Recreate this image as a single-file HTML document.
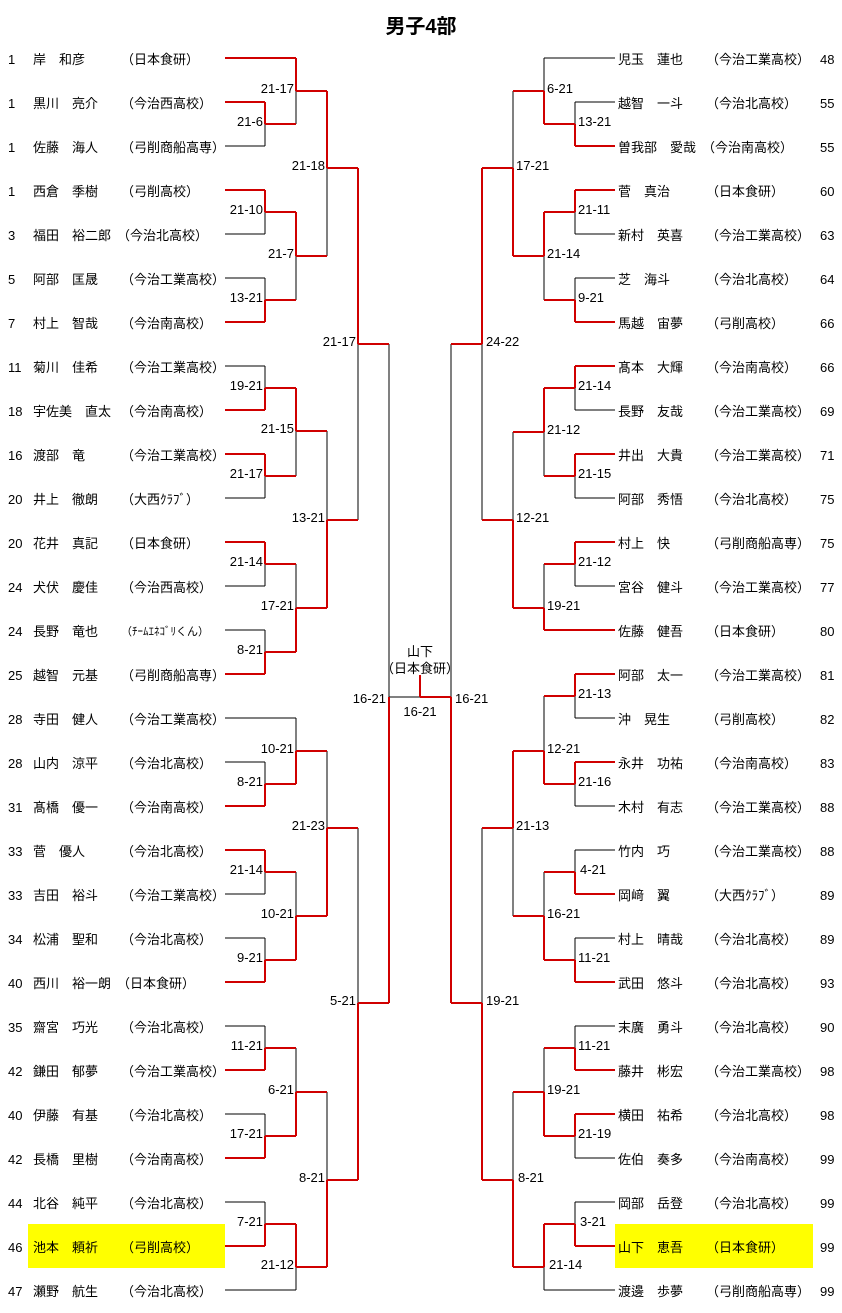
<!DOCTYPE html>
<html><head><meta charset="utf-8"><style>
html,body{margin:0;padding:0;background:#fff;}
svg{display:block;}
text{font-family:"Liberation Sans","Noto Sans CJK JP",sans-serif;font-size:13px;fill:#000;}
.t{font-size:20px;font-weight:bold;}
.s{font-size:11px;}
</style></head><body>
<svg width="842" height="1313" viewBox="0 0 842 1313" xmlns="http://www.w3.org/2000/svg" shape-rendering="crispEdges">
<rect x="28" y="1224" width="197" height="44" fill="#ffff00"/>
<rect x="615" y="1224" width="198" height="44" fill="#ffff00"/>
<text class="t" x="421" y="33" text-anchor="middle">男子4部</text>

<!-- black lines -->
<path fill="none" stroke="#000" stroke-width="1" d="
M265 102V146M265 190V234M265 278V322M265 366V410M265 454V498M265 542V586M265 630V674M265 762V806M265 850V894M265 938V982M265 1026V1070M265 1114V1158M265 1202V1246
M296 58V124M296 212V300M296 388V476M296 564V652M296 718V784M296 872V960M296 1048V1136M296 1224V1290
M327 91V256M327 431V608M327 751V916M327 1092V1267
M358 168V520M358 828V1180
M389 344V1003
M225 146H265M225 234H265M225 278H265M225 366H265M225 498H265M225 586H265M225 630H265M225 762H265M225 894H265M225 938H265M225 1026H265M225 1114H265M225 1202H265
M225 718H296M225 1290H296M389 697H420
M575 102V146M575 190V234M575 278V322M575 366V410M575 454V498M575 542V586M575 674V718M575 762V806M575 850V894M575 938V982M575 1026V1070M575 1114V1158M575 1202V1246
M544 58V124M544 212V300M544 388V476M544 564V630M544 696V784M544 872V960M544 1048V1136M544 1224V1290
M513 91V256M513 432V608M513 751V916M513 1092V1267
M482 168V520M482 828V1180
M451 344V1003
M615 102H575M615 234H575M615 278H575M615 410H575M615 498H575M615 586H575M615 718H575M615 806H575M615 850H575M615 938H575M615 1026H575M615 1158H575M615 1202H575
M615 58H544M615 1290H544
"/>

<!-- red lines -->
<path fill="none" stroke="#d00000" stroke-width="2" d="
M265 102V124M265 190V212M265 300V322M265 388V410M265 454V476M265 542V564M265 652V674M265 784V806M265 850V872M265 960V982M265 1048V1070M265 1136V1158M265 1224V1246
M296 58V91M296 212V256M296 388V431M296 608V652M296 751V784M296 916V960M296 1092V1136M296 1224V1267
M327 91V168M327 520V608M327 828V916M327 1180V1267
M358 168V344M358 1003V1180
M389 697V1003
M225 58H296M225 102H265M225 190H265M225 322H265M225 410H265M225 454H265M225 542H265M225 674H265M225 806H265M225 850H265M225 982H265M225 1070H265M225 1158H265M225 1246H265
M265 124H296M265 212H296M265 300H296M265 388H296M265 476H296M265 564H296M265 652H296M265 784H296M265 872H296M265 960H296M265 1048H296M265 1136H296M265 1224H296
M296 91H327M296 256H327M296 431H327M296 608H327M296 751H327M296 916H327M296 1092H327M296 1267H327
M327 168H358M327 520H358M327 828H358M327 1180H358
M358 344H389M358 1003H389
M575 124V146M575 190V212M575 300V322M575 366V388M575 454V476M575 542V564M575 674V696M575 762V784M575 872V894M575 960V982M575 1048V1070M575 1114V1136M575 1224V1246
M544 91V124M544 212V256M544 388V432M544 608V630M544 751V784M544 916V960M544 1092V1136M544 1224V1267
M513 168V256M513 520V608M513 751V828M513 1180V1267
M482 168V344M482 1003V1180
M451 697V1003
M615 146H575M615 190H575M615 322H575M615 366H575M615 454H575M615 542H575M615 674H575M615 762H575M615 894H575M615 982H575M615 1070H575M615 1114H575M615 1246H575
M615 630H544
M575 124H544M575 212H544M575 300H544M575 388H544M575 476H544M575 564H544M575 696H544M575 784H544M575 872H544M575 960H544M575 1048H544M575 1136H544M575 1224H544
M544 91H513M544 256H513M544 432H513M544 608H513M544 751H513M544 916H513M544 1092H513M544 1267H513
M513 168H482M513 520H482M513 828H482M513 1180H482
M482 344H451M482 1003H451
M451 697H420M420 675V697
"/>

<!-- left score labels -->
<g text-anchor="end">
<text x="263" y="126">21-6</text><text x="263" y="214">21-10</text><text x="263" y="302">13-21</text><text x="263" y="390">19-21</text><text x="263" y="478">21-17</text><text x="263" y="566">21-14</text><text x="263" y="654">8-21</text><text x="263" y="786">8-21</text><text x="263" y="874">21-14</text><text x="263" y="962">9-21</text><text x="263" y="1050">11-21</text><text x="263" y="1138">17-21</text><text x="263" y="1226">7-21</text>
<text x="294" y="93">21-17</text><text x="294" y="258">21-7</text><text x="294" y="433">21-15</text><text x="294" y="610">17-21</text><text x="294" y="753">10-21</text><text x="294" y="918">10-21</text><text x="294" y="1094">6-21</text><text x="294" y="1269">21-12</text>
<text x="325" y="170">21-18</text><text x="325" y="522">13-21</text><text x="325" y="830">21-23</text><text x="325" y="1182">8-21</text>
<text x="356" y="346">21-17</text><text x="356" y="1005">5-21</text>
<text x="386" y="703">16-21</text>
</g>
<!-- right score labels -->
<g>
<text x="578" y="126">13-21</text><text x="578" y="214">21-11</text><text x="578" y="302">9-21</text><text x="578" y="390">21-14</text><text x="578" y="478">21-15</text><text x="578" y="566">21-12</text><text x="578" y="698">21-13</text><text x="578" y="786">21-16</text><text x="580" y="874">4-21</text><text x="578" y="962">11-21</text><text x="578" y="1050">11-21</text><text x="578" y="1138">21-19</text><text x="580" y="1226">3-21</text>
<text x="547" y="93">6-21</text><text x="547" y="258">21-14</text><text x="547" y="434">21-12</text><text x="547" y="610">19-21</text><text x="547" y="753">12-21</text><text x="547" y="918">16-21</text><text x="547" y="1094">19-21</text><text x="549" y="1269">21-14</text>
<text x="516" y="170">17-21</text><text x="516" y="522">12-21</text><text x="516" y="830">21-13</text><text x="518" y="1182">8-21</text>
<text x="486" y="346">24-22</text><text x="486" y="1005">19-21</text>
<text x="455" y="703">16-21</text>
</g>
<g text-anchor="middle">
<text x="420" y="656">山下</text>
<text x="420" y="673">（日本食研）</text>
<text x="420" y="716">16-21</text>
</g>

<!-- left names -->
<g>
<text x="8" y="64">1</text><text x="33" y="64">岸　和彦</text><text x="121" y="64">（日本食研）</text>
<text x="8" y="108">1</text><text x="33" y="108">黒川　亮介</text><text x="121" y="108">（今治西高校）</text>
<text x="8" y="152">1</text><text x="33" y="152">佐藤　海人</text><text x="121" y="152">（弓削商船高専）</text>
<text x="8" y="196">1</text><text x="33" y="196">西倉　季樹</text><text x="121" y="196">（弓削高校）</text>
<text x="8" y="240">3</text><text x="33" y="240">福田　裕二郎</text><text x="117" y="240">（今治北高校）</text>
<text x="8" y="284">5</text><text x="33" y="284">阿部　匡晟</text><text x="121" y="284">（今治工業高校）</text>
<text x="8" y="328">7</text><text x="33" y="328">村上　智哉</text><text x="121" y="328">（今治南高校）</text>
<text x="8" y="372">11</text><text x="33" y="372">菊川　佳希</text><text x="121" y="372">（今治工業高校）</text>
<text x="8" y="416">18</text><text x="33" y="416">宇佐美　直太</text><text x="121" y="416">（今治南高校）</text>
<text x="8" y="460">16</text><text x="33" y="460">渡部　竜</text><text x="121" y="460">（今治工業高校）</text>
<text x="8" y="504">20</text><text x="33" y="504">井上　徹朗</text><text x="121" y="504">（大西ｸﾗﾌﾞ）</text>
<text x="8" y="548">20</text><text x="33" y="548">花井　真記</text><text x="121" y="548">（日本食研）</text>
<text x="8" y="592">24</text><text x="33" y="592">犬伏　慶佳</text><text x="121" y="592">（今治西高校）</text>
<text x="8" y="636">24</text><text x="33" y="636">長野　竜也</text><text class="s" x="121" y="635">（ﾁｰﾑｴﾈｺﾞﾘくん）</text>
<text x="8" y="680">25</text><text x="33" y="680">越智　元基</text><text x="121" y="680">（弓削商船高専）</text>
<text x="8" y="724">28</text><text x="33" y="724">寺田　健人</text><text x="121" y="724">（今治工業高校）</text>
<text x="8" y="768">28</text><text x="33" y="768">山内　涼平</text><text x="121" y="768">（今治北高校）</text>
<text x="8" y="812">31</text><text x="33" y="812">髙橋　優一</text><text x="121" y="812">（今治南高校）</text>
<text x="8" y="856">33</text><text x="33" y="856">菅　優人</text><text x="121" y="856">（今治北高校）</text>
<text x="8" y="900">33</text><text x="33" y="900">吉田　裕斗</text><text x="121" y="900">（今治工業高校）</text>
<text x="8" y="944">34</text><text x="33" y="944">松浦　聖和</text><text x="121" y="944">（今治北高校）</text>
<text x="8" y="988">40</text><text x="33" y="988">西川　裕一朗</text><text x="117" y="988">（日本食研）</text>
<text x="8" y="1032">35</text><text x="33" y="1032">齋宮　巧光</text><text x="121" y="1032">（今治北高校）</text>
<text x="8" y="1076">42</text><text x="33" y="1076">鎌田　郁夢</text><text x="121" y="1076">（今治工業高校）</text>
<text x="8" y="1120">40</text><text x="33" y="1120">伊藤　有基</text><text x="121" y="1120">（今治北高校）</text>
<text x="8" y="1164">42</text><text x="33" y="1164">長橋　里樹</text><text x="121" y="1164">（今治南高校）</text>
<text x="8" y="1208">44</text><text x="33" y="1208">北谷　純平</text><text x="121" y="1208">（今治北高校）</text>
<text x="8" y="1252">46</text><text x="33" y="1252">池本　頼祈</text><text x="121" y="1252">（弓削高校）</text>
<text x="8" y="1296">47</text><text x="33" y="1296">瀬野　航生</text><text x="121" y="1296">（今治北高校）</text>
</g>

<!-- right names -->
<g>
<text x="618" y="64">児玉　蓮也</text><text x="706" y="64">（今治工業高校）</text><text x="820" y="64">48</text>
<text x="618" y="108">越智　一斗</text><text x="706" y="108">（今治北高校）</text><text x="820" y="108">55</text>
<text x="618" y="152">曽我部　愛哉</text><text x="702" y="152">（今治南高校）</text><text x="820" y="152">55</text>
<text x="618" y="196">菅　真治</text><text x="706" y="196">（日本食研）</text><text x="820" y="196">60</text>
<text x="618" y="240">新村　英喜</text><text x="706" y="240">（今治工業高校）</text><text x="820" y="240">63</text>
<text x="618" y="284">芝　海斗</text><text x="706" y="284">（今治北高校）</text><text x="820" y="284">64</text>
<text x="618" y="328">馬越　宙夢</text><text x="706" y="328">（弓削高校）</text><text x="820" y="328">66</text>
<text x="618" y="372">髙本　大輝</text><text x="706" y="372">（今治南高校）</text><text x="820" y="372">66</text>
<text x="618" y="416">長野　友哉</text><text x="706" y="416">（今治工業高校）</text><text x="820" y="416">69</text>
<text x="618" y="460">井出　大貴</text><text x="706" y="460">（今治工業高校）</text><text x="820" y="460">71</text>
<text x="618" y="504">阿部　秀悟</text><text x="706" y="504">（今治北高校）</text><text x="820" y="504">75</text>
<text x="618" y="548">村上　快</text><text x="706" y="548">（弓削商船高専）</text><text x="820" y="548">75</text>
<text x="618" y="592">宮谷　健斗</text><text x="706" y="592">（今治工業高校）</text><text x="820" y="592">77</text>
<text x="618" y="636">佐藤　健吾</text><text x="706" y="636">（日本食研）</text><text x="820" y="636">80</text>
<text x="618" y="680">阿部　太一</text><text x="706" y="680">（今治工業高校）</text><text x="820" y="680">81</text>
<text x="618" y="724">沖　晃生</text><text x="706" y="724">（弓削高校）</text><text x="820" y="724">82</text>
<text x="618" y="768">永井　功祐</text><text x="706" y="768">（今治南高校）</text><text x="820" y="768">83</text>
<text x="618" y="812">木村　有志</text><text x="706" y="812">（今治工業高校）</text><text x="820" y="812">88</text>
<text x="618" y="856">竹内　巧</text><text x="706" y="856">（今治工業高校）</text><text x="820" y="856">88</text>
<text x="618" y="900">岡﨑　翼</text><text x="706" y="900">（大西ｸﾗﾌﾞ）</text><text x="820" y="900">89</text>
<text x="618" y="944">村上　晴哉</text><text x="706" y="944">（今治北高校）</text><text x="820" y="944">89</text>
<text x="618" y="988">武田　悠斗</text><text x="706" y="988">（今治北高校）</text><text x="820" y="988">93</text>
<text x="618" y="1032">末廣　勇斗</text><text x="706" y="1032">（今治北高校）</text><text x="820" y="1032">90</text>
<text x="618" y="1076">藤井　彬宏</text><text x="706" y="1076">（今治工業高校）</text><text x="820" y="1076">98</text>
<text x="618" y="1120">横田　祐希</text><text x="706" y="1120">（今治北高校）</text><text x="820" y="1120">98</text>
<text x="618" y="1164">佐伯　奏多</text><text x="706" y="1164">（今治南高校）</text><text x="820" y="1164">99</text>
<text x="618" y="1208">岡部　岳登</text><text x="706" y="1208">（今治北高校）</text><text x="820" y="1208">99</text>
<text x="618" y="1252">山下　恵吾</text><text x="706" y="1252">（日本食研）</text><text x="820" y="1252">99</text>
<text x="618" y="1296">渡邊　歩夢</text><text x="706" y="1296">（弓削商船高専）</text><text x="820" y="1296">99</text>
</g>
</svg>
</body></html>
